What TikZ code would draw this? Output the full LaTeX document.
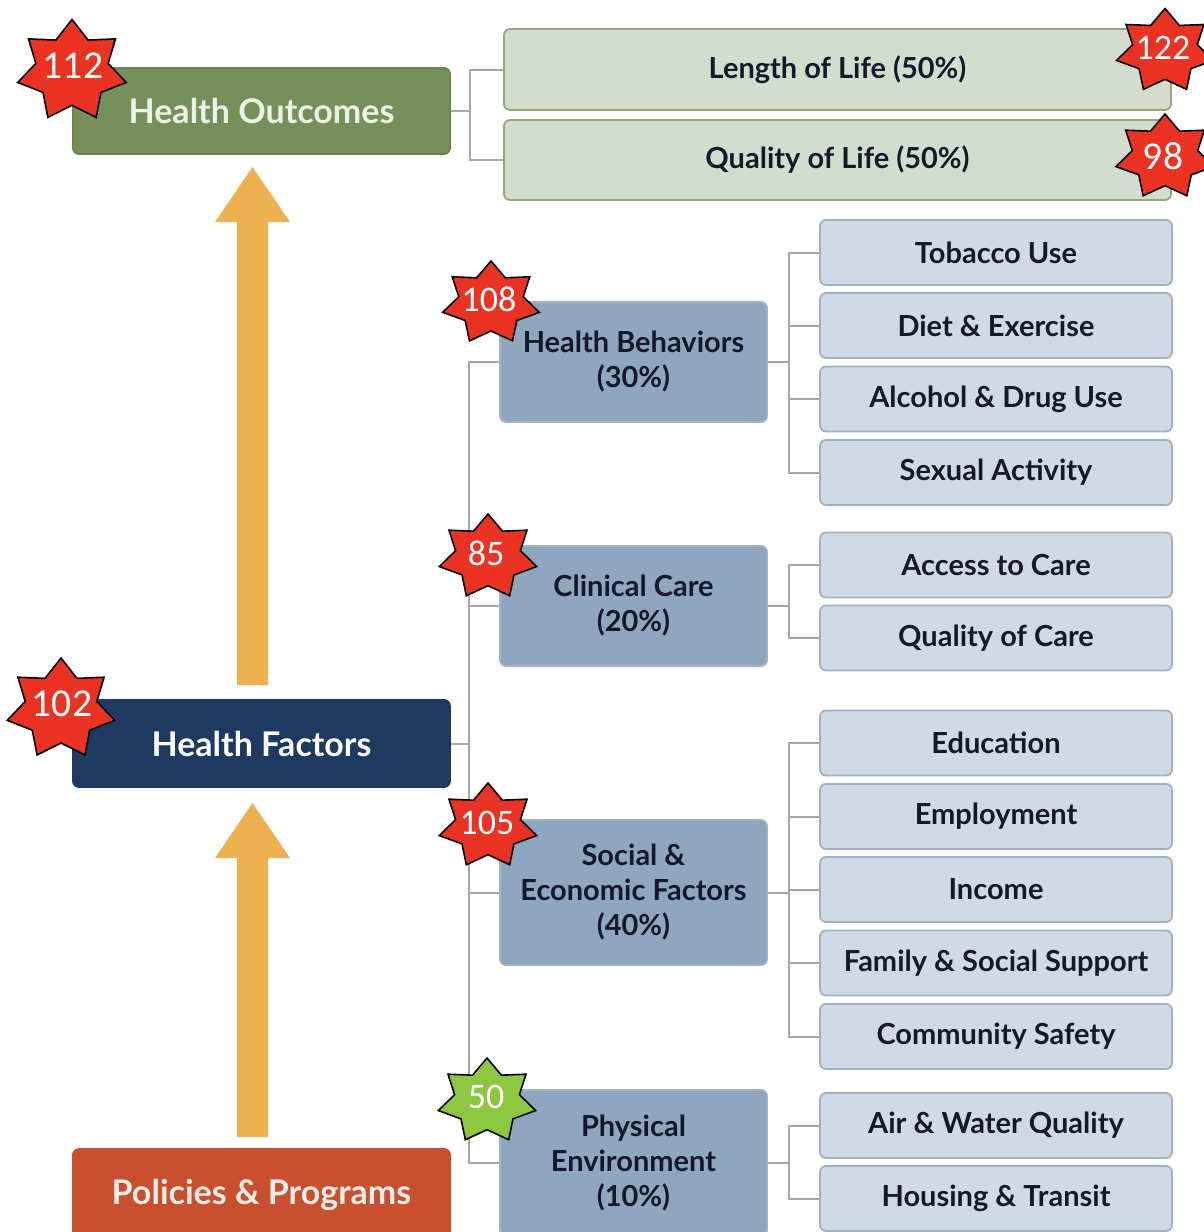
\documentclass[tikz,border=0pt]{standalone}
\usepackage{fontspec}
\setmainfont{Lato}
\newfontfamily\numfont{Carlito}
\usetikzlibrary{shapes.geometric}
\definecolor{dgreen}{HTML}{76905A}
\definecolor{dgreenb}{HTML}{6A8450}
\definecolor{lgreen}{HTML}{D4DCCD}
\definecolor{lgreenb}{HTML}{93A97C}
\definecolor{mblue}{HTML}{8FA7BE}
\definecolor{mblueb}{HTML}{A3B3C3}
\definecolor{lblue}{HTML}{CFDAE4}
\definecolor{lblueb}{HTML}{A2B1C0}
\definecolor{navy}{HTML}{1E3A60}
\definecolor{rust}{HTML}{C9502F}
\definecolor{arrowc}{HTML}{EDB150}
\definecolor{conncol}{HTML}{A8A8A8}
\definecolor{txtdark}{HTML}{15182A}
\definecolor{starred}{HTML}{EA3323}
\definecolor{stargreen}{HTML}{8DC63F}
\definecolor{hotext}{HTML}{EEF2E6}
\definecolor{pptext}{HTML}{F8ECE6}
\begin{document}
\begin{tikzpicture}[x=1pt,y=-1pt,
  box/.style={draw, rounded corners=6pt, line width=1.8pt, inner sep=0pt, align=center, text=txtdark},
  mainbox/.style={box, minimum width=377pt, font=\bfseries\fontsize{34}{38}\selectfont},
  outbox/.style={box, fill=lgreen, draw=lgreenb, minimum width=667pt, font=\bfseries\fontsize{29}{32}\selectfont},
  catbox/.style={box, fill=mblue, draw=mblueb, minimum width=267pt, font=\bfseries\fontsize{29}{35}\selectfont},
  leaf/.style={box, fill=lblue, draw=lblueb, minimum width=352pt, minimum height=65pt, font=\bfseries\fontsize{29}{32}\selectfont},
  conn/.style={draw=conncol, line width=2pt},
  badge/.style={star, star points=7, star point ratio=1.5, draw=black, line width=1.6pt, inner sep=0pt, minimum size=#1},
  badgetext/.style={text=white, inner sep=0pt, font=\numfont\fontsize{36}{38}\selectfont},
  bigbadgetext/.style={badgetext, font=\numfont\fontsize{39.5}{40}\selectfont},
  arrowshape/.style={fill=arrowc}
]
\useasboundingbox (0,0) rectangle (1204,1232);
\clip (0,0) rectangle (1204,1232);
\fill[white] (0,0) rectangle (1204,1232);

% arrows
\fill[arrowshape] (237,685) -- (237,222) -- (215,222) -- (252.5,167) -- (290,222) -- (268,222) -- (268,685) -- cycle;
\fill[arrowshape] (237,1137) -- (237,858) -- (215,858) -- (252.5,803) -- (290,858) -- (268,858) -- (268,1137) -- cycle;

% main boxes
\node[mainbox, fill=dgreen, draw=dgreenb, minimum height=86pt, text=hotext] (ho) at (261.5,111) {Health Outcomes};
\node[mainbox, fill=navy, draw=navy, minimum height=87pt, text=white] (hf) at (261.5,743.5) {Health Factors};
\node[mainbox, fill=rust, draw=rust, minimum height=92pt, text=pptext] (pp) at (261.5,1195) {Policies \& Programs};

% outcomes
\node[outbox, minimum height=81pt] (lol) at (837.5,69.5) {Length of Life (50\%)};
\node[outbox, minimum height=80pt] (qol) at (837.5,160) {Quality of Life (50\%)};

% categories
\node[catbox, minimum height=120pt] (hb) at (633.5,362) {Health Behaviors\\(30\%)};
\node[catbox, minimum height=120pt] (cc) at (633.5,606) {Clinical Care\\(20\%)};
\node[catbox, minimum height=145pt] (se) at (633.5,892.5) {Social \&\\Economic Factors\\(40\%)};
\node[catbox, minimum height=146pt] (pe) at (633.5,1163) {Physical\\Environment\\(10\%)};

% leaves
\node[leaf] (l1) at (996,252.5) {Tobacco Use};
\node[leaf] (l2) at (996,325.5) {Diet \& Exercise};
\node[leaf] (l3) at (996,399) {Alcohol \& Drug Use};
\node[leaf] (l4) at (996,472.5) {Sexual Activity};
\node[leaf] (l5) at (996,565) {Access to Care};
\node[leaf] (l6) at (996,638) {Quality of Care};
\node[leaf] (l7) at (996,743) {Education};
\node[leaf] (l8) at (996,816.5) {Employment};
\node[leaf] (l9) at (996,889.5) {Income};
\node[leaf] (l10) at (996,963) {Family \& Social Support};
\node[leaf] (l11) at (996,1036.5) {Community Safety};
\node[leaf] (l12) at (996,1125.5) {Air \& Water Quality};
\node[leaf] (l13) at (996,1198.5) {Housing \& Transit};

% connectors
\coordinate (hoj) at (470,111);
\draw[conn] (ho.east) -- (hoj);
\draw[conn] (hoj) |- (lol.west);
\draw[conn] (hoj) |- (qol.west);

\coordinate (hfj) at (469,743.5);
\draw[conn] (hf.east) -- (hfj);
\foreach \c in {hb,cc,se,pe} \draw[conn] (hfj) |- (\c.west);

\coordinate (hbj) at (789,362);
\draw[conn] (hb.east) -- (hbj);
\foreach \c in {l1,l2,l3,l4} \draw[conn] (hbj) |- (\c.west);
\coordinate (ccj) at (789,606);
\draw[conn] (cc.east) -- (ccj);
\foreach \c in {l5,l6} \draw[conn] (ccj) |- (\c.west);
\coordinate (sej) at (789,892.5);
\draw[conn] (se.east) -- (sej);
\foreach \c in {l7,l8,l9,l10,l11} \draw[conn] (sej) |- (\c.west);
\coordinate (pej) at (789,1163);
\draw[conn] (pe.east) -- (pej);
\foreach \c in {l12,l13} \draw[conn] (pej) |- (\c.west);

% badges
\begin{scope}[shift={(72,71)}, xscale=1.08]
  \node[badge=103pt, fill=starred, transform shape] (s112) at (0,0) {};
\end{scope}
\node[bigbadgetext] (t112) at (73,66) {112};

\begin{scope}[shift={(1165,51)}, xscale=1.17]
  \node[badge=85pt, fill=starred, transform shape] (s122) at (0,0) {};
\end{scope}
\node[badgetext] (t122) at (1163,48) {122};

\begin{scope}[shift={(1165,157)}, xscale=1.17]
  \node[badge=86pt, fill=starred, transform shape] (s98) at (0,0) {};
\end{scope}
\node[bigbadgetext] (t98) at (1163,156) {98};

\begin{scope}[shift={(491,303)}, xscale=1.18]
  \node[badge=84pt, fill=starred, transform shape] (s108) at (0,0) {};
\end{scope}
\node[badgetext] (t108) at (489,299) {108};

\begin{scope}[shift={(488,557)}, xscale=1.16]
  \node[badge=86pt, fill=starred, transform shape] (s85) at (0,0) {};
\end{scope}
\node[badgetext] (t85) at (486,553) {85};

\begin{scope}[shift={(61,709)}, xscale=1.08]
  \node[badge=102pt, fill=starred, transform shape] (s102) at (0,0) {};
\end{scope}
\node[bigbadgetext] (t102) at (62,704) {102};

\begin{scope}[shift={(488,826)}, xscale=1.16]
  \node[badge=86pt, fill=starred, transform shape] (s105) at (0,0) {};
\end{scope}
\node[badgetext] (t105) at (487,823) {105};

\begin{scope}[shift={(487,1101)}, xscale=1.16]
  \node[badge=86pt, fill=stargreen, transform shape] (s50) at (0,0) {};
\end{scope}
\node[badgetext] (t50) at (486,1097) {50};
\end{tikzpicture}
\end{document}
